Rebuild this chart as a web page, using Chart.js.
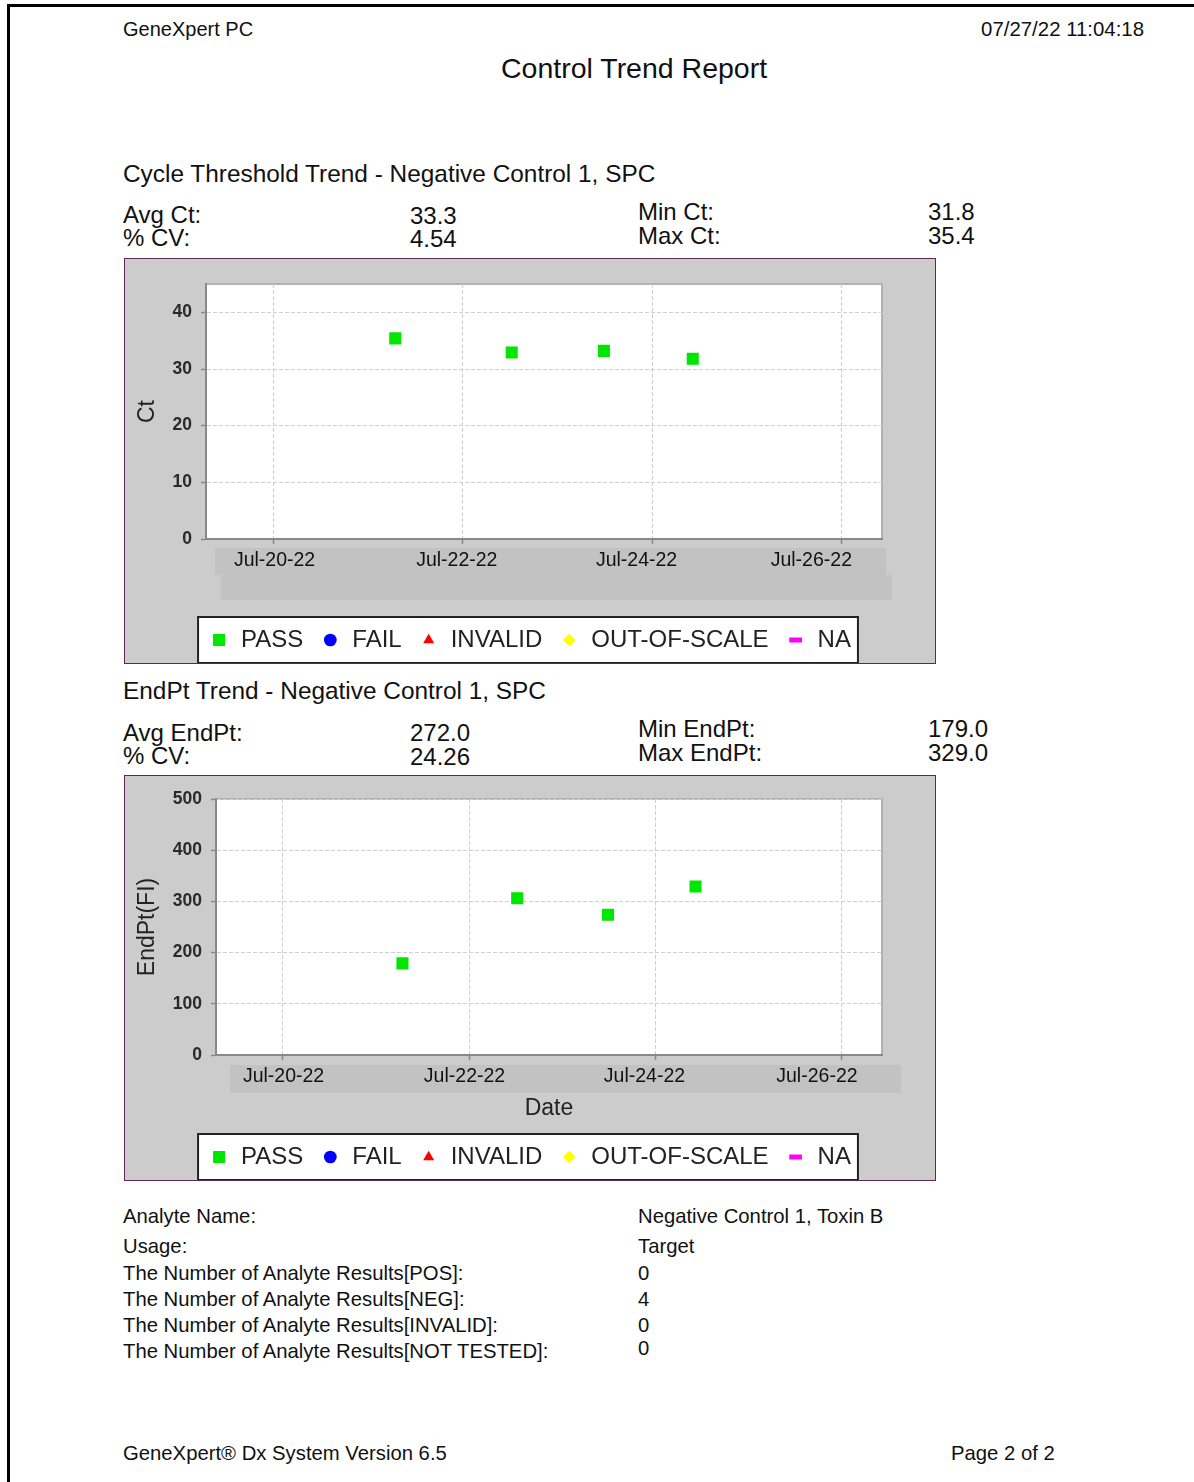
<!DOCTYPE html>
<html>
<head>
<meta charset="utf-8">
<title>Control Trend Report</title>
<script src="https://cdn.jsdelivr.net/npm/chart.js@4.4.0/dist/chart.umd.min.js"></script>
<style>
  html, body { margin: 0; padding: 0; background: #fff; }
  body { width: 1194px; height: 1482px; position: relative; overflow: hidden;
         font-family: "Liberation Sans", Arial, sans-serif; color: #111; }
  .frame { position: absolute; left: 7px; top: 4px; width: 1400px; height: 1600px;
           border-left: 3px solid #000; border-top: 3px solid #000; }
  .t { position: absolute; white-space: nowrap; line-height: 1; }
  .panel { position: absolute; left: 124px; width: 810px; height: 404px;
           border: 1px solid #5a285a; background: #cccccc; }
  .panel canvas { display: block; }
</style>
</head>
<body>
<div class="frame"></div>

<div class="t" style="left:123px; top:18.5px; font-size:20px;">GeneXpert PC</div>
<div class="t" style="right:50px; top:18.5px; font-size:20.4px;">07/27/22 11:04:18</div>
<div class="t" style="left:501px; top:54px; font-size:28.5px;">Control Trend Report</div>

<div class="t" style="left:123px; top:162px; font-size:24.4px;">Cycle Threshold Trend - Negative Control 1, SPC</div>
<div class="t" style="left:123px; top:203px; font-size:24px;">Avg Ct:</div>
<div class="t" style="left:123px; top:226px; font-size:24px;">% CV:</div>
<div class="t" style="left:410px; top:203.5px; font-size:24px;">33.3</div>
<div class="t" style="left:410px; top:226.5px; font-size:24px;">4.54</div>
<div class="t" style="left:638px; top:200px; font-size:24px;">Min Ct:</div>
<div class="t" style="left:638px; top:224px; font-size:24px;">Max Ct:</div>
<div class="t" style="left:928px; top:200px; font-size:24px;">31.8</div>
<div class="t" style="left:928px; top:224px; font-size:24px;">35.4</div>

<div class="panel" style="top:258px;"><canvas id="ctChart" width="810" height="404"></canvas></div>

<div class="t" style="left:123px; top:679px; font-size:24.4px;">EndPt Trend - Negative Control 1, SPC</div>
<div class="t" style="left:123px; top:721px; font-size:24px;">Avg EndPt:</div>
<div class="t" style="left:123px; top:744px; font-size:24px;">% CV:</div>
<div class="t" style="left:410px; top:721px; font-size:24px;">272.0</div>
<div class="t" style="left:410px; top:744.5px; font-size:24px;">24.26</div>
<div class="t" style="left:638px; top:717px; font-size:24px;">Min EndPt:</div>
<div class="t" style="left:638px; top:741px; font-size:24px;">Max EndPt:</div>
<div class="t" style="left:928px; top:717px; font-size:24px;">179.0</div>
<div class="t" style="left:928px; top:741px; font-size:24px;">329.0</div>

<div class="panel" style="top:775px;"><canvas id="endPtChart" width="810" height="404"></canvas></div>

<div class="t" style="left:123px; top:1206px; font-size:20.3px;">Analyte Name:</div>
<div class="t" style="left:123px; top:1236px; font-size:20.3px;">Usage:</div>
<div class="t" style="left:123px; top:1262.5px; font-size:20.3px;">The Number of Analyte Results[POS]:</div>
<div class="t" style="left:123px; top:1288.5px; font-size:20.3px;">The Number of Analyte Results[NEG]:</div>
<div class="t" style="left:123px; top:1315px; font-size:20.3px;">The Number of Analyte Results[INVALID]:</div>
<div class="t" style="left:123px; top:1341px; font-size:20.3px;">The Number of Analyte Results[NOT TESTED]:</div>
<div class="t" style="left:638px; top:1206px; font-size:20.3px;">Negative Control 1, Toxin B</div>
<div class="t" style="left:638px; top:1236px; font-size:20.3px;">Target</div>
<div class="t" style="left:638px; top:1262.5px; font-size:20.3px;">0</div>
<div class="t" style="left:638px; top:1288.5px; font-size:20.3px;">4</div>
<div class="t" style="left:638px; top:1315px; font-size:20.3px;">0</div>
<div class="t" style="left:638px; top:1338px; font-size:20.3px;">0</div>

<div class="t" style="left:123px; top:1443px; font-size:20.3px;">GeneXpert® Dx System Version 6.5</div>
<div class="t" style="left:951px; top:1443px; font-size:20.3px;">Page 2 of 2</div>

<script>
// test dates (same four runs in both charts)
const sampleDates = ["2022-07-21T06:52", "2022-07-22T12:24", "2022-07-23T11:47", "2022-07-24T10:19"];
const ctValues = [35.4, 32.9, 33.2, 31.8];
const endPtValues = [179, 306, 274, 329];

const xTickDates = ["2022-07-20", "2022-07-22", "2022-07-24", "2022-07-26"];
const xTickLabels = ["Jul-20-22", "Jul-22-22", "Jul-24-22", "Jul-26-22"];
const ctTicks = [0, 10, 20, 30, 40];
const endPtTicks = [0, 100, 200, 300, 400, 500];

const legendLabels = ["PASS", "FAIL", "INVALID", "OUT-OF-SCALE", "NA"];

const DAY = 86400000;
const toMs = s => Date.parse(s.length > 10 ? s + ":00Z" : s + "T00:00:00Z");

const markerStyles = [
    { pointStyle: "rect", color: "#00e600", border: 3 },
    { pointStyle: "circle", color: "#0000ff", border: 0 },
    { pointStyle: "triangle", color: "#ff0000", border: 0 },
    { pointStyle: "rectRot", color: "#ffff00", border: 0 },
    { pointStyle: "line", color: "#ff00ff", border: 5 }
];

const FONT = "'Liberation Sans', Arial, sans-serif";
Chart.defaults.font.family = FONT;

// white plot area, light frame, grey label bands, boxed legend,
// and the date labels (the original report draws them a little left of their ticks)
const panelDecor = {
    id: "panelDecor",
    beforeDraw(chart, args, opts) {
        const { ctx, chartArea: a } = chart;
        ctx.save();

        const b = opts.band;
        ctx.fillStyle = "#c2c2c2";
        ctx.fillRect(a.left + b[0], a.bottom + b[1], b[2], b[3]);

        ctx.fillStyle = "#ffffff";
        ctx.fillRect(a.left, a.top, a.right - a.left, a.bottom - a.top);
        ctx.strokeStyle = "#b2b2b2";
        ctx.lineWidth = 2;
        ctx.beginPath();
        ctx.moveTo(a.left, a.top);
        ctx.lineTo(a.right, a.top);
        ctx.lineTo(a.right, a.bottom);
        ctx.stroke();

        const hb = chart.legend.legendHitBoxes;
        if (hb && hb.length) {
            const first = hb[0];
            const last = hb[hb.length - 1];
            const cy = first.top + first.height / 2;
            const x0 = first.left - 11;
            const x1 = last.left + last.width + 7;
            ctx.fillStyle = "#ffffff";
            ctx.fillRect(x0, cy - 23, x1 - x0, 46);
            ctx.strokeStyle = "#222";
            ctx.lineWidth = 2;
            ctx.strokeRect(x0, cy - 23, x1 - x0, 46);
        }
        ctx.restore();
    },
    afterDraw(chart, args, opts) {
        const { ctx, chartArea: a } = chart;
        const xs = chart.scales.x;
        ctx.save();
        const b = opts.band2;
        if (b) {
            ctx.fillStyle = "#c2c2c2";
            ctx.fillRect(a.left + b[0], a.bottom + b[1], b[2], b[3]);
        }
        ctx.font = "19.5px " + FONT;
        ctx.fillStyle = "#111";
        ctx.textAlign = "center";
        ctx.textBaseline = "middle";
        xTickDates.forEach((d, i) => {
            ctx.fillText(xTickLabels[i], xs.getPixelForValue(toMs(d)) + opts.labelShift[i], xs.top + 21.5);
        });
        ctx.restore();
    }
};

function makeChart(id, values, yTicks, yMax, yTitle, geo) {
    const points = sampleDates.map((d, i) => ({ x: toMs(d), y: values[i] }));

    const datasets = legendLabels.map((label, i) => ({
        label: label,
        data: i === 0 ? points : [],
        pointStyle: markerStyles[i].pointStyle,
        pointRadius: 6.4,
        pointBackgroundColor: markerStyles[i].color,
        pointBorderColor: markerStyles[i].color,
        pointBorderWidth: markerStyles[i].border,
        backgroundColor: markerStyles[i].color,
        borderColor: markerStyles[i].color
    }));

    const gridOpts = {
        color: "#cfcfcf",
        lineWidth: 1,
        tickColor: "#888",
        tickLength: 5,
        tickWidth: 1.5,
        tickBorderDash: []
    };
    const borderOpts = { color: "#888", width: 2, dash: [4, 2] };

    return new Chart(document.getElementById(id), {
        type: "scatter",
        data: { datasets: datasets },
        plugins: [panelDecor],
        options: {
            responsive: false,
            animation: false,
            events: [],
            layout: { padding: { top: geo.top, left: 0, right: 0, bottom: 1 } },
            plugins: {
                tooltip: { enabled: false },
                panelDecor: { band: geo.band, band2: geo.band2, labelShift: geo.labelShift },
                legend: {
                    position: "bottom",
                    align: "center",
                    labels: {
                        usePointStyle: true,
                        boxWidth: 20,
                        boxHeight: 9,
                        padding: 17,
                        color: "#222",
                        font: { size: 24 }
                    }
                }
            },
            scales: {
                x: {
                    type: "linear",
                    position: "bottom",
                    min: toMs(sampleDates[0]) - 2 * DAY,
                    max: toMs(sampleDates[sampleDates.length - 1]) + 2 * DAY,
                    afterBuildTicks: s => { s.ticks = xTickDates.map(d => ({ value: toMs(d) })); },
                    afterFit: s => { s.height = geo.xHeight; },
                    ticks: {
                        display: false,
                        callback: (v, i) => xTickLabels[i],
                        autoSkip: false,
                        maxRotation: 0
                    },
                    grid: gridOpts,
                    border: borderOpts,
                    title: {
                        display: true,
                        text: "Date",
                        color: "#222",
                        font: { size: 23 },
                        padding: { top: 0, bottom: 6 }
                    }
                },
                y: {
                    position: "left",
                    min: 0,
                    max: yMax,
                    afterBuildTicks: s => { s.ticks = yTicks.map(v => ({ value: v })); },
                    afterFit: s => { s.width = geo.yWidth; },
                    ticks: { padding: 9, color: "#2a2a2a", font: { size: 17.5, weight: "bold" } },
                    grid: gridOpts,
                    border: borderOpts,
                    title: {
                        display: true,
                        text: yTitle,
                        color: "#222",
                        font: { size: 23 },
                        padding: { top: 9, bottom: 0 }
                    }
                },
                yRight: {
                    position: "right",
                    display: true,
                    afterFit: s => { s.width = geo.rightWidth; },
                    ticks: { display: false },
                    grid: { display: false, drawTicks: false },
                    border: { display: false }
                }
            }
        }
    });
}

makeChart("ctChart", ctValues, ctTicks, 45, "Ct", {
    top: 25, yWidth: 81, xHeight: 72, rightWidth: 53,
    band: [9, 9, 671, 27], band2: [15, 36, 671, 25],
    labelShift: [1, -6, -15.5, -30]
});

makeChart("endPtChart", endPtValues, endPtTicks, 500, "EndPt(FI)", {
    top: 23, yWidth: 91, xHeight: 73, rightWidth: 53,
    band: [14, 10, 671, 28], band2: null,
    labelShift: [1, -4.5, -11, -25]
});
</script>
</body>
</html>
